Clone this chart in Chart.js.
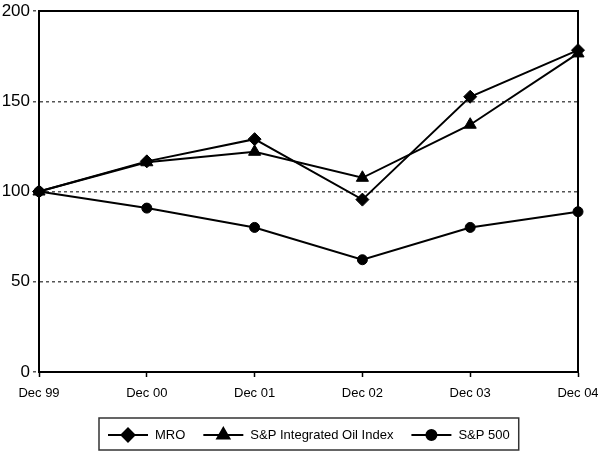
<!DOCTYPE html>
<html>
<head>
<meta charset="utf-8">
<script src="https://cdn.jsdelivr.net/npm/chart.js@4"></script>
<style>
  html, body { margin: 0; padding: 0; background: #fff; }
  #wrap { width: 598px; height: 452px; }
</style>
</head>
<body>
<div id="wrap"><canvas id="perf"></canvas></div>
<script>
var labels = ['Dec 99', 'Dec 00', 'Dec 01', 'Dec 02', 'Dec 03', 'Dec 04'];
var mro = [100, 116.7, 129, 95.5, 152.5, 178.3];
var oilIndex = [100, 116.2, 122, 107.6, 137, 176.5];
var sp500 = [100, 90.8, 80.1, 62.2, 80.1, 88.8];
var yTicks = [0, 50, 100, 150, 200];

var FONT = "'Liberation Sans', Arial, sans-serif";

// box round the plot area
var frame = {
    id: 'frame',
    afterDatasetsDraw: function (chart) {
        var a = chart.chartArea, ctx = chart.ctx;
        ctx.save();
        ctx.strokeStyle = '#000';
        ctx.lineWidth = 2;
        ctx.strokeRect(a.left, a.top, a.right - a.left, a.bottom - a.top);
        ctx.restore();
    }
};

// legend: line with marker in the middle, all in a box under the chart
var boxLegend = {
    id: 'boxLegend',
    afterDraw: function (chart) {
        var ctx = chart.ctx, a = chart.chartArea;
        var sets = chart.data.datasets;
        ctx.save();
        ctx.font = '13px ' + FONT;
        var lineW = 40, gap = 7, itemGap = 18, pad = 9;
        var total = pad * 2;
        sets.forEach(function (ds, i) {
            total += lineW + gap + ctx.measureText(ds.label).width;
            if (i < sets.length - 1) total += itemGap;
        });
        var cx = (a.left + a.right) / 2;
        var x0 = Math.round(cx - total / 2), top = 418, h = 32;
        var cy = top + h / 2 + 1;
        ctx.strokeStyle = '#333';
        ctx.lineWidth = 1.5;
        ctx.strokeRect(x0, top, total, h);
        var x = x0 + pad;
        sets.forEach(function (ds) {
            ctx.strokeStyle = '#000';
            ctx.lineWidth = 2;
            ctx.beginPath();
            ctx.moveTo(x, cy);
            ctx.lineTo(x + lineW, cy);
            ctx.stroke();
            Chart.helpers.drawPoint(ctx, {
                pointStyle: ds.pointStyle,
                radius: ds.pointRadius,
                borderWidth: 1,
                rotation: 0
            }, x + lineW / 2, cy);
            ctx.fillStyle = '#000';
            ctx.fill();
            ctx.textBaseline = 'middle';
            ctx.textAlign = 'left';
            ctx.fillText(ds.label, x + lineW + gap, cy);
            x += lineW + gap + ctx.measureText(ds.label).width + itemGap;
        });
        ctx.restore();
    }
};

function series(label, data, style, r) {
    return {
        label: label,
        data: data,
        borderColor: '#000',
        backgroundColor: '#000',
        borderWidth: 2,
        pointStyle: style,
        pointRadius: r,
        pointBorderWidth: 1,
        pointBackgroundColor: '#000',
        pointBorderColor: '#000',
        tension: 0
    };
}

new Chart(document.getElementById('perf'), {
    type: 'line',
    data: {
        labels: labels,
        datasets: [
            series('MRO', mro, 'rectRot', 6.5),
            series('S&P Integrated Oil Index', oilIndex, 'triangle', 7),
            series('S&P 500', sp500, 'circle', 5)
        ]
    },
    options: {
        responsive: true,
        maintainAspectRatio: false,
        animation: false,
        layout: { padding: { top: 11, right: 20, left: 0, bottom: 0 } },
        plugins: {
            legend: { display: false },
            tooltip: { enabled: false }
        },
        scales: {
            x: {
                offset: false,
                afterFit: function (s) {
                    s.height = 80;
                    s.paddingLeft = 0;
                    s.paddingRight = 0;
                },
                grid: {
                    drawOnChartArea: false,
                    drawTicks: true,
                    tickLength: 5,
                    tickColor: '#000',
                    tickWidth: 1.5
                },
                border: { display: true, color: '#000', width: 2 },
                ticks: {
                    color: '#000',
                    font: { family: FONT, size: 13 },
                    padding: 9,
                    maxRotation: 0,
                    autoSkip: false
                }
            },
            y: {
                min: 0,
                max: 200,
                afterFit: function (s) {
                    s.width = 39;
                    s.paddingTop = 0;
                    s.paddingBottom = 0;
                },
                afterBuildTicks: function (s) {
                    s.ticks = yTicks.map(function (v) { return { value: v }; });
                },
                grid: {
                    color: function (c) {
                        var v = c.tick && c.tick.value;
                        return (v === 0 || v === 200) ? 'rgba(0,0,0,0)' : '#555';
                    },
                    lineWidth: 1.5,
                    drawTicks: true,
                    tickLength: 6,
                    tickColor: '#555',
                    tickBorderDash: [3, 3]
                },
                border: { display: true, color: '#000', width: 2, dash: [3, 3] },
                ticks: {
                    color: '#000',
                    font: { family: FONT, size: 17 },
                    padding: 3
                }
            }
        }
    },
    plugins: [frame, boxLegend]
});
</script>
</body>
</html>
